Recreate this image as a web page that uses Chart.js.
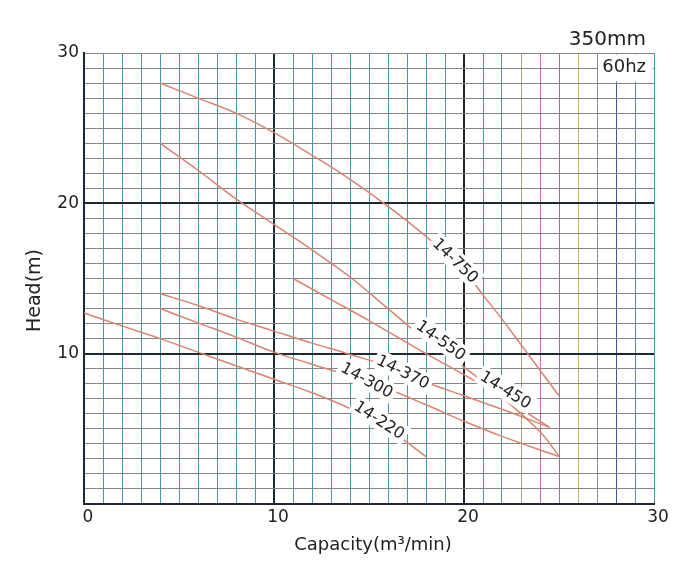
<!DOCTYPE html>
<html>
<head>
<meta charset="utf-8">
<script src="https://cdn.jsdelivr.net/npm/chart.js@4/dist/chart.umd.min.js"></script>
<style>
  html, body { margin: 0; padding: 0; background: #fff; }
  #wrap { width: 694px; height: 585px; }
</style>
</head>
<body>
<div id="wrap"><canvas id="pump-chart" width="694" height="585"></canvas></div>
<script>
// curve data: capacity (m3/min) vs head (m)
const x750 = [4, 6, 8, 10, 12, 14, 16, 18, 20, 21, 22, 23, 24, 25];
const y750 = [28, 27, 26, 24.7, 23.2, 21.6, 19.8, 17.8, 15.5, 13.9, 12.3, 10.6, 8.9, 7.2];

const x550 = [4, 6, 8, 10, 12, 14, 16, 18, 20, 22, 24, 25];
const y550 = [24, 22.2, 20.3, 18.6, 16.9, 15.1, 13, 10.9, 9.1, 7.1, 4.8, 3.2];

const x450 = [11, 13, 15, 18, 20, 22, 24.5];
const y450 = [15, 13.6, 12.2, 10, 8.6, 7.1, 5.1];

const x370 = [4, 6, 8, 10, 12, 14, 16, 18, 20, 22, 24.5];
const y370 = [14, 13.2, 12.3, 11.5, 10.7, 9.95, 9.15, 8.1, 7.2, 6.3, 5.1];

const x300 = [4, 6, 8, 10, 12, 14, 16, 18, 20, 22, 25];
const y300 = [13, 12.05, 11.1, 10.1, 9.3, 8.5, 7.65, 6.6, 5.5, 4.5, 3.15];

const x220 = [0, 2, 4, 6, 8, 10, 12, 14, 16, 18];
const y220 = [12.7, 11.85, 11, 10.1, 9.2, 8.3, 7.4, 6.35, 5.0, 3.15];

// tick labels
const xTickLabels = [0, 10, 20, 30];
const yTickLabels = [10, 20, 30];

// curve labels (name, where it sits, angle in degrees)
const labelNames = ['14-750', '14-550', '14-450', '14-370', '14-300', '14-220'];
const labelX = [19.56, 18.8, 22.2, 16.8, 14.9, 15.55];
const labelY = [16.2, 10.9, 7.6, 8.8, 8.25, 5.6];
const labelAngle = [44, 36, 32, 27, 29, 33];

const curveColor = '#d8846f';
const FONT = '"DejaVu Sans", Verdana, sans-serif';

function toPoints(xs, ys) {
    return xs.map((x, i) => ({ x: x, y: ys[i] }));
}

function curve(xs, ys) {
    return {
        data: toPoints(xs, ys),
        showLine: true,
        borderColor: curveColor,
        borderWidth: 1.5,
        pointRadius: 0,
        tension: 0.4,
        fill: false
    };
}

// vertical line colours drift a bit towards the right side, as on the sheet
const xLineColors = {
    23: '#a9a282', 24: '#c46fa2', 25: '#a06aa6', 26: '#c9b466',
    27: '#8c8c8c', 28: '#3e5c8c', 29: '#5a8cba'
};

function xGridColor(ctx) {
    const v = ctx.tick ? ctx.tick.value : 0;
    if (v === 10 || v === 20) return '#1d2833';
    return xLineColors[v] || '#4796ab';
}

function yGridColor(ctx) {
    const v = ctx.tick ? ctx.tick.value : 0;
    if (v === 10 || v === 20) return '#1d2833';
    return '#858585';
}

function gridWidth(ctx) {
    const v = ctx.tick ? ctx.tick.value : 0;
    return (v === 10 || v === 20) ? 2 : 1;
}

// texts drawn on top: titles, the 60hz box and the curve labels
const textPlugin = {
    id: 'texts',
    beforeDatasetsDraw(chart) {
        const ctx = chart.ctx;
        const xs = chart.scales.x, ys = chart.scales.y;
        const area = chart.chartArea;
        // white box for "60hz"
        ctx.save();
        ctx.fillStyle = '#fff';
        const bx = xs.getPixelForValue(27) + 1;
        const by = ys.getPixelForValue(28.1);
        ctx.fillRect(bx, area.top + 1.5, area.right - 1.5 - bx, by - area.top - 1.5);
        ctx.restore();
    },
    afterDatasetsDraw(chart) {
        const ctx = chart.ctx;
        const xs = chart.scales.x, ys = chart.scales.y;
        const area = chart.chartArea;
        ctx.save();
        ctx.fillStyle = '#222';
        ctx.textBaseline = 'middle';

        ctx.font = '20px ' + FONT;
        ctx.textAlign = 'right';
        ctx.fillText('350mm', area.right - 8, 40);
        ctx.font = '18px ' + FONT;
        ctx.fillText('60hz', area.right - 8, 67);

        // axis titles
        ctx.font = '18px ' + FONT;
        ctx.textAlign = 'center';
        ctx.fillText('Capacity(m³/min)', (area.left + area.right) / 2 + 4, 545);
        ctx.font = '19px ' + FONT;
        ctx.save();
        ctx.translate(35, (area.top + area.bottom) / 2 + 12);
        ctx.rotate(-Math.PI / 2);
        ctx.fillText('Head(m)', 0, 0);
        ctx.restore();

        // curve labels with white backing
        ctx.font = '16px ' + FONT;
        for (let i = 0; i < labelNames.length; i++) {
            const px = xs.getPixelForValue(labelX[i]);
            const py = ys.getPixelForValue(labelY[i]);
            const w = ctx.measureText(labelNames[i]).width;
            ctx.save();
            ctx.translate(px, py);
            ctx.rotate(labelAngle[i] * Math.PI / 180);
            ctx.fillStyle = '#fff';
            ctx.fillRect(-w / 2 - 3, -10, w + 6, 20);
            ctx.fillStyle = '#222';
            ctx.fillText(labelNames[i], 0, 1);
            ctx.restore();
        }
        ctx.restore();
    }
};

const config = {
    type: 'scatter',
    data: {
        datasets: [
            curve(x750, y750),
            curve(x550, y550),
            curve(x450, y450),
            curve(x370, y370),
            curve(x300, y300),
            curve(x220, y220)
        ]
    },
    options: {
        responsive: false,
        animation: false,
        layout: { padding: { left: 0, right: 40, top: 53, bottom: 0 } },
        plugins: {
            legend: { display: false },
            tooltip: { enabled: false }
        },
        scales: {
            x: {
                type: 'linear',
                min: 0,
                max: 30,
                ticks: {
                    stepSize: 1,
                    maxTicksLimit: 31,
                    autoSkip: false,
                    maxRotation: 0,
                    padding: 3,
                    labelOffset: 4,
                    color: '#222',
                    font: { size: 17, family: FONT },
                    callback: v => xTickLabels.includes(v) ? String(v) : ''
                },
                grid: { color: xGridColor, lineWidth: gridWidth, drawTicks: false },
                border: { color: '#1d2833', width: 2 },
                afterFit: s => { s.height = 81; }
            },
            y: {
                type: 'linear',
                min: 0,
                max: 30,
                ticks: {
                    stepSize: 1,
                    maxTicksLimit: 31,
                    autoSkip: false,
                    padding: 5,
                    color: '#222',
                    font: { size: 17, family: FONT },
                    callback: v => yTickLabels.includes(v) ? String(v) : ''
                },
                grid: { color: yGridColor, lineWidth: gridWidth, drawTicks: false },
                border: { color: '#1d2833', width: 2 },
                afterFit: s => { s.width = 84; }
            }
        }
    },
    plugins: [textPlugin]
};

const myChart = new Chart(document.getElementById('pump-chart').getContext('2d'), config);
</script>
</body>
</html>
